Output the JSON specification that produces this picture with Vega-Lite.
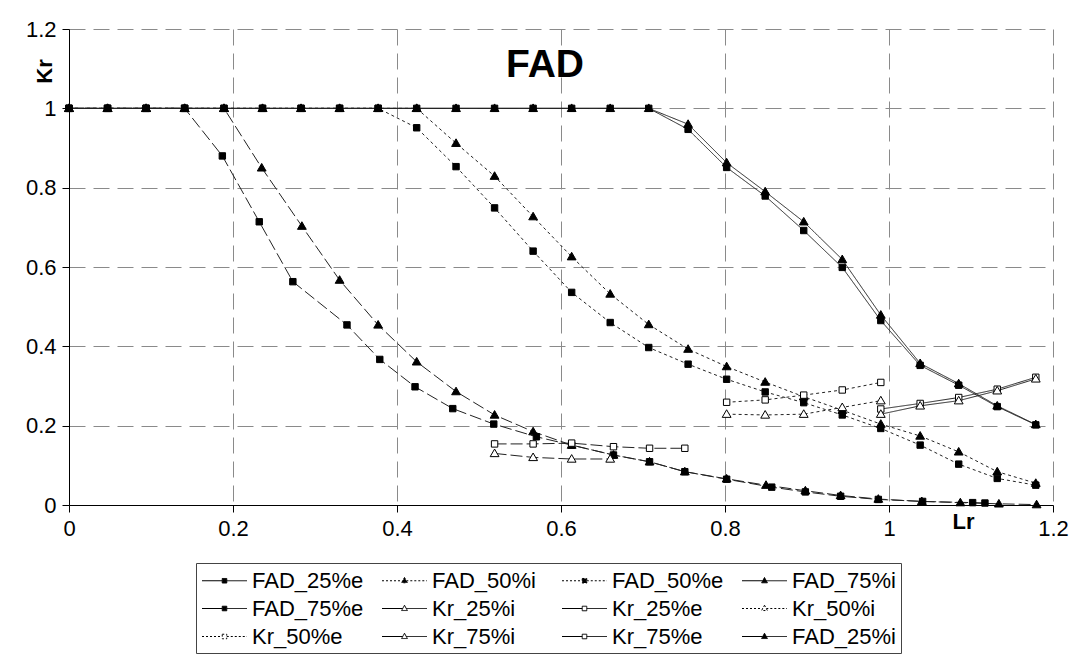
{
  "$schema": "https://vega.github.io/schema/vega-lite/v6.json",
  "width": 984,
  "height": 476,
  "autosize": {"type": "none"},
  "padding": {"left": 69, "top": 29, "right": 20, "bottom": 161},
  "background": "white",
  "title": {"text": "FAD", "fontSize": 39, "fontWeight": "bold", "font": "Liberation Sans", "anchor": "middle", "frame": "group", "offset": 0, "baseline": "alphabetic", "dx": -16, "dy": 98, "color": "black"},
  "config": {
    "font": "Liberation Sans",
    "view": {"stroke": null},
    "axis": {
      "grid": true, "gridDash": [16, 8], "gridColor": "#8a8a8a", "gridWidth": 1,
      "domainColor": "black", "domainWidth": 1, "tickColor": "black", "tickSize": 7,
      "labelFontSize": 22, "labelColor": "black", "labelPadding": 6, "labelFlush": false, "labelOverlap": false,
      "titleFontSize": 22, "titleFontWeight": "bold", "titleColor": "black"
    },
    "legend": {
      "orient": "none", "legendX": 127, "legendY": 534, "columns": 4, "direction": "horizontal", "gridAlign": "all", "title": null,
      "labelFontSize": 22, "labelColor": "black", "labelOffset": 15, "symbolOffset": 11, "symbolSize": 576, "symbolStrokeWidth": 1, "symbolStrokeColor": "black",
      "strokeColor": "#444444", "fillColor": "white", "padding": 5, "rowPadding": 4, "columnPadding": 16
    }
  },
  "data": {"values": [
    {"s":"FAD_25%e","x":0,"y":1},{"s":"FAD_25%e","x":0.047,"y":1},{"s":"FAD_25%e","x":0.094,"y":1},{"s":"FAD_25%e","x":0.141,"y":1},{"s":"FAD_25%e","x":0.189,"y":1},{"s":"FAD_25%e","x":0.236,"y":1},{"s":"FAD_25%e","x":0.283,"y":1},{"s":"FAD_25%e","x":0.33,"y":1},{"s":"FAD_25%e","x":0.377,"y":1},{"s":"FAD_25%e","x":0.424,"y":1},{"s":"FAD_25%e","x":0.472,"y":1},{"s":"FAD_25%e","x":0.519,"y":1},{"s":"FAD_25%e","x":0.566,"y":1},{"s":"FAD_25%e","x":0.613,"y":1},{"s":"FAD_25%e","x":0.66,"y":1},{"s":"FAD_25%e","x":0.707,"y":1},
    {"s":"FAD_25%e","x":0.755,"y":0.947},{"s":"FAD_25%e","x":0.802,"y":0.851},{"s":"FAD_25%e","x":0.849,"y":0.779},{"s":"FAD_25%e","x":0.896,"y":0.692},{"s":"FAD_25%e","x":0.943,"y":0.599},{"s":"FAD_25%e","x":0.99,"y":0.465},{"s":"FAD_25%e","x":1.038,"y":0.352},{"s":"FAD_25%e","x":1.085,"y":0.302},{"s":"FAD_25%e","x":1.132,"y":0.248},{"s":"FAD_25%e","x":1.179,"y":0.202},

    {"s":"FAD_25%i","x":0,"y":1},{"s":"FAD_25%i","x":0.047,"y":1},{"s":"FAD_25%i","x":0.094,"y":1},{"s":"FAD_25%i","x":0.141,"y":1},{"s":"FAD_25%i","x":0.189,"y":1},{"s":"FAD_25%i","x":0.236,"y":1},{"s":"FAD_25%i","x":0.283,"y":1},{"s":"FAD_25%i","x":0.33,"y":1},{"s":"FAD_25%i","x":0.377,"y":1},{"s":"FAD_25%i","x":0.424,"y":1},{"s":"FAD_25%i","x":0.472,"y":1},{"s":"FAD_25%i","x":0.519,"y":1},{"s":"FAD_25%i","x":0.566,"y":1},{"s":"FAD_25%i","x":0.613,"y":1},{"s":"FAD_25%i","x":0.66,"y":1},{"s":"FAD_25%i","x":0.707,"y":1},
    {"s":"FAD_25%i","x":0.755,"y":0.96},{"s":"FAD_25%i","x":0.802,"y":0.863},{"s":"FAD_25%i","x":0.849,"y":0.79},{"s":"FAD_25%i","x":0.896,"y":0.714},{"s":"FAD_25%i","x":0.943,"y":0.619},{"s":"FAD_25%i","x":0.99,"y":0.479},{"s":"FAD_25%i","x":1.038,"y":0.357},{"s":"FAD_25%i","x":1.085,"y":0.306},{"s":"FAD_25%i","x":1.132,"y":0.25},{"s":"FAD_25%i","x":1.179,"y":0.203},

    {"s":"FAD_50%e","x":0,"y":1},{"s":"FAD_50%e","x":0.047,"y":1},{"s":"FAD_50%e","x":0.094,"y":1},{"s":"FAD_50%e","x":0.141,"y":1},{"s":"FAD_50%e","x":0.189,"y":1},{"s":"FAD_50%e","x":0.236,"y":1},{"s":"FAD_50%e","x":0.283,"y":1},{"s":"FAD_50%e","x":0.33,"y":1},{"s":"FAD_50%e","x":0.377,"y":1},
    {"s":"FAD_50%e","x":0.424,"y":0.951},{"s":"FAD_50%e","x":0.472,"y":0.853},{"s":"FAD_50%e","x":0.519,"y":0.749},{"s":"FAD_50%e","x":0.566,"y":0.64},{"s":"FAD_50%e","x":0.613,"y":0.536},{"s":"FAD_50%e","x":0.66,"y":0.46},{"s":"FAD_50%e","x":0.707,"y":0.397},{"s":"FAD_50%e","x":0.755,"y":0.355},{"s":"FAD_50%e","x":0.802,"y":0.317},{"s":"FAD_50%e","x":0.849,"y":0.285},{"s":"FAD_50%e","x":0.896,"y":0.258},{"s":"FAD_50%e","x":0.943,"y":0.227},{"s":"FAD_50%e","x":0.99,"y":0.193},{"s":"FAD_50%e","x":1.038,"y":0.151},{"s":"FAD_50%e","x":1.085,"y":0.103},{"s":"FAD_50%e","x":1.132,"y":0.067},{"s":"FAD_50%e","x":1.179,"y":0.05},

    {"s":"FAD_50%i","x":0,"y":1},{"s":"FAD_50%i","x":0.047,"y":1},{"s":"FAD_50%i","x":0.094,"y":1},{"s":"FAD_50%i","x":0.141,"y":1},{"s":"FAD_50%i","x":0.189,"y":1},{"s":"FAD_50%i","x":0.236,"y":1},{"s":"FAD_50%i","x":0.283,"y":1},{"s":"FAD_50%i","x":0.33,"y":1},{"s":"FAD_50%i","x":0.377,"y":1},{"s":"FAD_50%i","x":0.424,"y":1},
    {"s":"FAD_50%i","x":0.472,"y":0.912},{"s":"FAD_50%i","x":0.519,"y":0.829},{"s":"FAD_50%i","x":0.566,"y":0.727},{"s":"FAD_50%i","x":0.613,"y":0.626},{"s":"FAD_50%i","x":0.66,"y":0.532},{"s":"FAD_50%i","x":0.707,"y":0.455},{"s":"FAD_50%i","x":0.755,"y":0.393},{"s":"FAD_50%i","x":0.802,"y":0.349},{"s":"FAD_50%i","x":0.849,"y":0.31},{"s":"FAD_50%i","x":0.896,"y":0.273},{"s":"FAD_50%i","x":0.943,"y":0.239},{"s":"FAD_50%i","x":0.99,"y":0.204},{"s":"FAD_50%i","x":1.038,"y":0.174},{"s":"FAD_50%i","x":1.085,"y":0.134},{"s":"FAD_50%i","x":1.132,"y":0.084},{"s":"FAD_50%i","x":1.179,"y":0.055},

    {"s":"FAD_75%e","x":0,"y":1},{"s":"FAD_75%e","x":0.047,"y":1},{"s":"FAD_75%e","x":0.094,"y":1},{"s":"FAD_75%e","x":0.141,"y":1},
    {"s":"FAD_75%e","x":0.187,"y":0.88},{"s":"FAD_75%e","x":0.232,"y":0.714},{"s":"FAD_75%e","x":0.273,"y":0.563},{"s":"FAD_75%e","x":0.339,"y":0.454},{"s":"FAD_75%e","x":0.379,"y":0.367},{"s":"FAD_75%e","x":0.422,"y":0.298},{"s":"FAD_75%e","x":0.468,"y":0.243},{"s":"FAD_75%e","x":0.518,"y":0.204},{"s":"FAD_75%e","x":0.57,"y":0.172},{"s":"FAD_75%e","x":0.613,"y":0.151},{"s":"FAD_75%e","x":0.664,"y":0.126},{"s":"FAD_75%e","x":0.708,"y":0.109},{"s":"FAD_75%e","x":0.751,"y":0.084},{"s":"FAD_75%e","x":0.802,"y":0.065},{"s":"FAD_75%e","x":0.857,"y":0.045},{"s":"FAD_75%e","x":0.898,"y":0.033},{"s":"FAD_75%e","x":0.941,"y":0.022},{"s":"FAD_75%e","x":0.987,"y":0.014},{"s":"FAD_75%e","x":1.041,"y":0.009},{"s":"FAD_75%e","x":1.102,"y":0.006},{"s":"FAD_75%e","x":1.117,"y":0.005},

    {"s":"FAD_75%i","x":0,"y":1},{"s":"FAD_75%i","x":0.047,"y":1},{"s":"FAD_75%i","x":0.094,"y":1},{"s":"FAD_75%i","x":0.141,"y":1},{"s":"FAD_75%i","x":0.189,"y":1},
    {"s":"FAD_75%i","x":0.235,"y":0.85},{"s":"FAD_75%i","x":0.284,"y":0.703},{"s":"FAD_75%i","x":0.33,"y":0.567},{"s":"FAD_75%i","x":0.377,"y":0.454},{"s":"FAD_75%i","x":0.424,"y":0.361},{"s":"FAD_75%i","x":0.472,"y":0.286},{"s":"FAD_75%i","x":0.519,"y":0.227},{"s":"FAD_75%i","x":0.566,"y":0.185},{"s":"FAD_75%i","x":0.613,"y":0.151},{"s":"FAD_75%i","x":0.664,"y":0.126},{"s":"FAD_75%i","x":0.708,"y":0.109},{"s":"FAD_75%i","x":0.751,"y":0.084},{"s":"FAD_75%i","x":0.802,"y":0.066},{"s":"FAD_75%i","x":0.85,"y":0.05},{"s":"FAD_75%i","x":0.898,"y":0.036},{"s":"FAD_75%i","x":0.941,"y":0.024},{"s":"FAD_75%i","x":0.987,"y":0.015},{"s":"FAD_75%i","x":1.04,"y":0.009},{"s":"FAD_75%i","x":1.087,"y":0.006},{"s":"FAD_75%i","x":1.134,"y":0.003},{"s":"FAD_75%i","x":1.18,"y":0.001},

    {"s":"Kr_75%e","x":0.519,"y":0.154},{"s":"Kr_75%e","x":0.566,"y":0.154},{"s":"Kr_75%e","x":0.613,"y":0.156},{"s":"Kr_75%e","x":0.664,"y":0.147},{"s":"Kr_75%e","x":0.708,"y":0.143},{"s":"Kr_75%e","x":0.751,"y":0.143},
    {"s":"Kr_75%i","x":0.519,"y":0.13},{"s":"Kr_75%i","x":0.566,"y":0.12},{"s":"Kr_75%i","x":0.613,"y":0.116},{"s":"Kr_75%i","x":0.66,"y":0.116},
    {"s":"Kr_50%e","x":0.802,"y":0.259},{"s":"Kr_50%e","x":0.849,"y":0.265},{"s":"Kr_50%e","x":0.896,"y":0.277},{"s":"Kr_50%e","x":0.943,"y":0.29},{"s":"Kr_50%e","x":0.99,"y":0.309},
    {"s":"Kr_50%i","x":0.802,"y":0.229},{"s":"Kr_50%i","x":0.849,"y":0.227},{"s":"Kr_50%i","x":0.896,"y":0.229},{"s":"Kr_50%i","x":0.943,"y":0.246},{"s":"Kr_50%i","x":0.99,"y":0.263},
    {"s":"Kr_25%e","x":0.99,"y":0.242},{"s":"Kr_25%e","x":1.038,"y":0.256},{"s":"Kr_25%e","x":1.085,"y":0.271},{"s":"Kr_25%e","x":1.132,"y":0.292},{"s":"Kr_25%e","x":1.179,"y":0.322},
    {"s":"Kr_25%i","x":0.99,"y":0.229},{"s":"Kr_25%i","x":1.038,"y":0.25},{"s":"Kr_25%i","x":1.085,"y":0.263},{"s":"Kr_25%i","x":1.132,"y":0.288},{"s":"Kr_25%i","x":1.179,"y":0.318}
  ]},
  "layer": [
    {
      "mark": {"type": "line", "stroke": "#222222", "strokeWidth": 1},
      "encoding": {
        "x": {"field": "x", "type": "quantitative", "scale": {"domain": [0, 1.2]},
              "axis": {"values": [0, 0.2, 0.4, 0.6, 0.8, 1, 1.2], "format": "~g", "title": "Lr", "titleX": 894, "titleY": 16, "titleAlign": "center", "titleBaseline": "middle", "titleAngle": 0}},
        "y": {"field": "y", "type": "quantitative", "scale": {"domain": [0, 1.2]},
              "axis": {"values": [0, 0.2, 0.4, 0.6, 0.8, 1, 1.2], "format": "~g", "title": "Kr", "titleX": -25, "titleY": 42, "titleAlign": "center", "titleBaseline": "middle", "labelPadding": 6}},
        "strokeDash": {"field": "s", "type": "nominal", "legend": null,
          "scale": {"domain": ["FAD_25%e","FAD_50%i","FAD_50%e","FAD_75%i","FAD_75%e","Kr_25%i","Kr_25%e","Kr_50%i","Kr_50%e","Kr_75%i","Kr_75%e","FAD_25%i"],
                    "range": [[1,0],[3,3],[3,3],[12,4],[12,4],[1,0],[1,0],[3,3],[3,3],[12,4],[12,4],[1,0]]}}
      }
    },
    {
      "mark": {"type": "point", "stroke": "black", "strokeWidth": 1, "opacity": 1, "size": 64},
      "encoding": {
        "x": {"field": "x", "type": "quantitative"},
        "y": {"field": "y", "type": "quantitative"},
        "shape": {"field": "s", "type": "nominal", "legend": null,
          "scale": {"domain": ["FAD_25%e","FAD_50%i","FAD_50%e","FAD_75%i","FAD_75%e","Kr_25%i","Kr_25%e","Kr_50%i","Kr_50%e","Kr_75%i","Kr_75%e","FAD_25%i"],
                    "range": ["M-0.8,-0.8H0.8V0.8H-0.8Z","M0,-1.1L1.1,0.8L-1.1,0.8Z","M-0.8,-0.8H0.8V0.8H-0.8Z","M0,-1.1L1.1,0.8L-1.1,0.8Z","M-0.8,-0.8H0.8V0.8H-0.8Z","M0,-1.1L1.1,0.8L-1.1,0.8Z","M-0.8,-0.8H0.8V0.8H-0.8Z","M0,-1.1L1.1,0.8L-1.1,0.8Z","M-0.8,-0.8H0.8V0.8H-0.8Z","M0,-1.1L1.1,0.8L-1.1,0.8Z","M-0.8,-0.8H0.8V0.8H-0.8Z","M0,-1.1L1.1,0.8L-1.1,0.8Z"]}},
        "fill": {"field": "s", "type": "nominal", "legend": null,
          "scale": {"domain": ["FAD_25%e","FAD_50%i","FAD_50%e","FAD_75%i","FAD_75%e","Kr_25%i","Kr_25%e","Kr_50%i","Kr_50%e","Kr_75%i","Kr_75%e","FAD_25%i"],
                    "range": ["black","black","black","black","black","white","white","white","white","white","white","black"]}}
      }
    },
    {
      "transform": [{"filter": "false"}],
      "mark": {"type": "point", "strokeWidth": 1, "opacity": 1},
      "encoding": {
        "x": {"field": "x", "type": "quantitative"},
        "y": {"field": "y", "type": "quantitative"},
        "shape": {"field": "s", "type": "nominal",
          "scale": {"domain": ["FAD_25%e","FAD_50%i","FAD_50%e","FAD_75%i","FAD_75%e","Kr_25%i","Kr_25%e","Kr_50%i","Kr_50%e","Kr_75%i","Kr_75%e","FAD_25%i"],
                    "range": ["M-1.875,0H-0.19M0.19,0H1.875M-0.19,-0.19H0.19V0.19H-0.19Z","M-1.875,0H-0.15M0.15,0H1.875M0,-0.27L0.24,0.17L-0.24,0.17Z","M-1.875,0H-0.19M0.19,0H1.875M-0.19,-0.19H0.19V0.19H-0.19Z","M-1.875,0H-0.15M0.15,0H1.875M0,-0.27L0.24,0.17L-0.24,0.17Z","M-1.875,0H-0.19M0.19,0H1.875M-0.19,-0.19H0.19V0.19H-0.19Z","M-1.875,0H-0.15M0.15,0H1.875M0,-0.27L0.24,0.17L-0.24,0.17Z","M-1.875,0H-0.19M0.19,0H1.875M-0.19,-0.19H0.19V0.19H-0.19Z","M-1.875,0H-0.15M0.15,0H1.875M0,-0.27L0.24,0.17L-0.24,0.17Z","M-1.875,0H-0.19M0.19,0H1.875M-0.19,-0.19H0.19V0.19H-0.19Z","M-1.875,0H-0.15M0.15,0H1.875M0,-0.27L0.24,0.17L-0.24,0.17Z","M-1.875,0H-0.19M0.19,0H1.875M-0.19,-0.19H0.19V0.19H-0.19Z","M-1.875,0H-0.15M0.15,0H1.875M0,-0.27L0.24,0.17L-0.24,0.17Z"]}},
        "fill": {"field": "s", "type": "nominal",
          "scale": {"domain": ["FAD_25%e","FAD_50%i","FAD_50%e","FAD_75%i","FAD_75%e","Kr_25%i","Kr_25%e","Kr_50%i","Kr_50%e","Kr_75%i","Kr_75%e","FAD_25%i"],
                    "range": ["black","black","black","black","black","white","white","white","white","white","white","black"]}},
        "stroke": {"field": "s", "type": "nominal",
          "scale": {"domain": ["FAD_25%e","FAD_50%i","FAD_50%e","FAD_75%i","FAD_75%e","Kr_25%i","Kr_25%e","Kr_50%i","Kr_50%e","Kr_75%i","Kr_75%e","FAD_25%i"],
                    "range": ["black","black","black","black","black","black","black","black","black","black","black","black"]}},
        "strokeDash": {"field": "s", "type": "nominal",
          "scale": {"domain": ["FAD_25%e","FAD_50%i","FAD_50%e","FAD_75%i","FAD_75%e","Kr_25%i","Kr_25%e","Kr_50%i","Kr_50%e","Kr_75%i","Kr_75%e","FAD_25%i"],
                    "range": [[1,0],[2,2],[2,2],[1,0],[1,0],[1,0],[1,0],[2,2],[2,2],[1,0],[1,0],[1,0]]}}
      }
    }
  ],
  "resolve": {"scale": {"shape": "independent", "fill": "independent", "strokeDash": "independent", "stroke": "independent"}}
}
